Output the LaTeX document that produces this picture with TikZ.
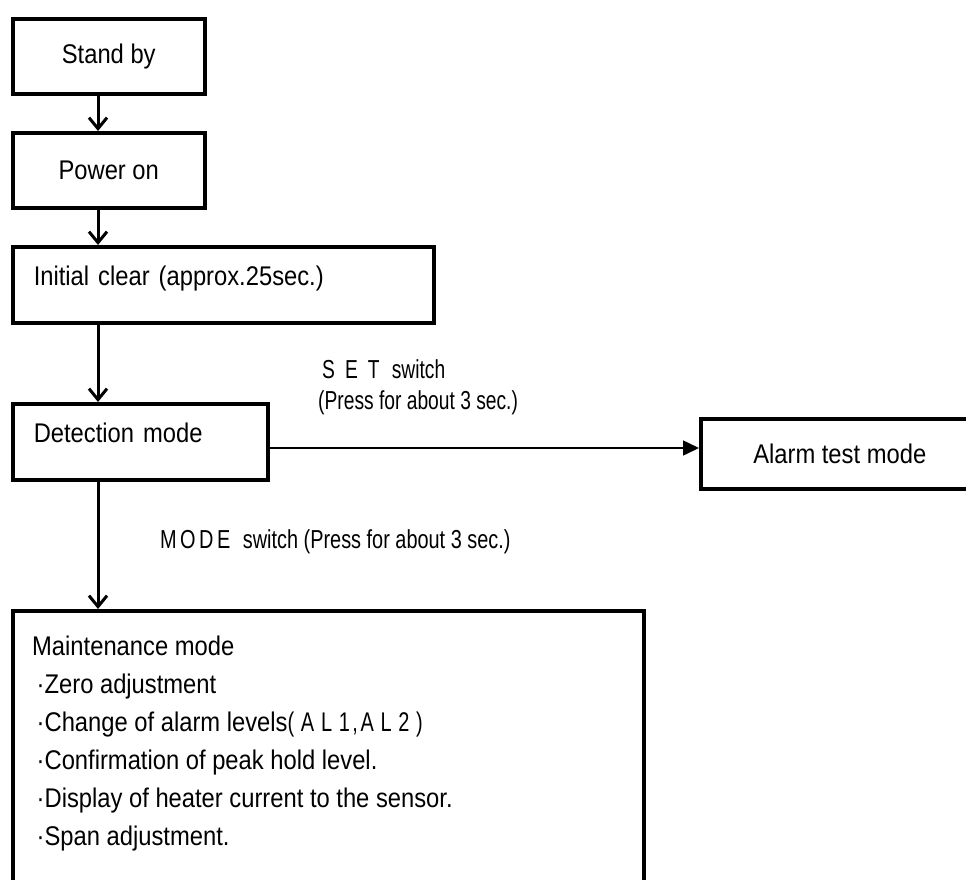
\documentclass[tikz,border=0pt]{standalone}
\usepackage{fontspec}
\setmainfont{Liberation Sans}[FakeStretch=0.88]
\usetikzlibrary{arrows.meta,positioning}

\newcommand\narrowtext[2][0.84]{\scalebox{#1}[1]{#2}}

\begin{document}
\begin{tikzpicture}[x=1pt,y=-1pt,
    box/.style={draw, line width=3.5pt, rectangle, inner sep=0pt, font=\fontsize{27}{38}\selectfont},
    leftbox/.style={box, align=left, inner xsep=21pt, text depth=18pt},
    flow/.style={line width=3pt, -{Straight Barb[length=11pt,width=18pt,line width=3pt]}},
    side/.style={line width=1.5pt, -{Triangle[length=16pt,width=15pt]}},
    note/.style={anchor=west, inner sep=0pt, font=\fontsize{26}{30}\selectfont}]
    \clip (0,0) rectangle (966,879);

    % boxes of the flow
    \node[box, anchor=north west, minimum width=192pt, minimum height=75pt] (standby) at (11,17) {Stand by};
    \node[box, anchor=north west, minimum width=192pt, minimum height=75pt] (poweron) at (11,131) {Power on};
    \node[leftbox, anchor=north west, text width=379pt, minimum height=76pt] (initclear) at (11,245) {Initial clear (approx.25sec.)};
    \node[leftbox, anchor=north west, text width=213pt, minimum height=76pt] (detect) at (11,402) {Detection mode};
    \node[box, anchor=north west, minimum width=278pt, minimum height=70pt] (alarm) at (699,417) {Alarm test mode};
    \node[box, anchor=north west, minimum width=631pt, minimum height=300pt] (maint) at (11,609) {};
    \node[anchor=north west, align=left, inner sep=0pt, font=\fontsize{27}{38}\selectfont] (mainttext)
        at ([xshift=21pt, yshift=-27pt]maint.north west)
        {Maintenance mode\\
         \,·Zero adjustment\\
         \,·Change of alarm levels\narrowtext{(\hspace{8pt}A\hspace{8pt}L\hspace{8pt}1\hspace{3pt},\hspace{3pt}A\hspace{8pt}L\hspace{8pt}2\hspace{8pt})}\\
         \,·Confirmation of peak hold level.\\
         \,·Display of heater current to the sensor.\\
         \,·Span adjustment.};

    \coordinate (spine) at (98,0);
    \coordinate (setline) at (0,448);

    % down the left side
    \foreach \a/\b in {standby/poweron, poweron/initclear, initclear/detect, detect/maint}
    {
        \draw[flow] (\a.south -| spine) -- (\b.north -| spine);
    }
    \draw[side] (detect.east |- setline) -- (alarm.west |- setline);

    % switch labels
    \node[note] (setname) at (322,369) {\narrowtext{S\hspace{12pt}E\hspace{12pt}T\hspace{8pt} switch}};
    \node[note] (setpress) at (318,403) {\narrowtext{(Press for about 3 sec.)}};
    \node[note] (modename) at (160,542) {\narrowtext[0.87]{M\hspace{4pt}O\hspace{4pt}D\hspace{4pt}E\hspace{8pt} switch (Press for about 3 sec.)}};

\end{tikzpicture}
\end{document}
